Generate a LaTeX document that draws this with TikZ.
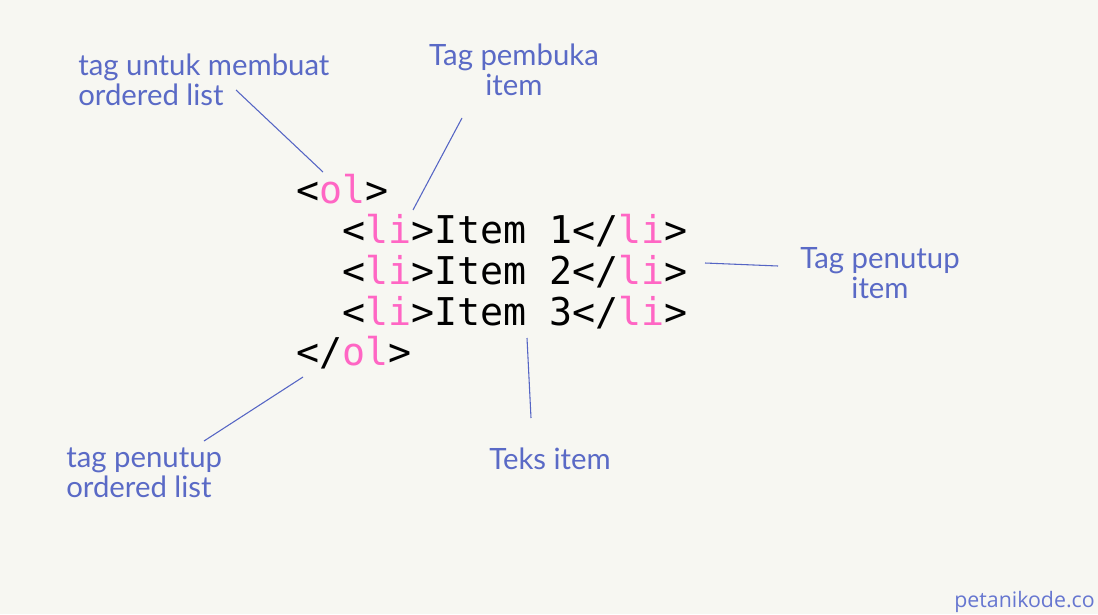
\documentclass[tikz,border=0pt]{standalone}
\usepackage{fontspec}
\newfontfamily\codefont{DejaVu Sans Mono}
\newfontfamily\labfont{Lato}
\newfontfamily\wmfont{Open Sans}
\definecolor{bg}{HTML}{F7F7F2}
\definecolor{pk}{HTML}{FF66C4}
\definecolor{lb}{HTML}{5A6AC6}
\definecolor{ln}{HTML}{5565C4}
\definecolor{wm}{HTML}{6676D0}
\begin{document}
\begin{tikzpicture}[x=0.75pt,y=-0.75pt,
 code/.style={anchor=base west,inner sep=0,font=\codefont\fontsize{28.7}{30}\selectfont},
 lab/.style={inner sep=0,text=lb,font=\labfont\fontsize{22}{22.5}\selectfont},
 con/.style={draw=ln,line width=0.8pt}]
\fill[bg] (0,0) rectangle (1098,614);
\useasboundingbox (0,0) rectangle (1098,614);
% code
\node[code] (ol)  at (296,203) {<\textcolor{pk}{ol}>};
\node[code] (li1) at (342,243) {<\textcolor{pk}{li}>Item 1</\textcolor{pk}{li}>};
\node[code] (li2) at (342,284) {<\textcolor{pk}{li}>Item 2</\textcolor{pk}{li}>};
\node[code] (li3) at (342,325) {<\textcolor{pk}{li}>Item 3</\textcolor{pk}{li}>};
\node[code] (olc) at (296,365) {</\textcolor{pk}{ol}>};
% labels
\node[lab,anchor=north west,align=left] (l1) at (78,54) {tag untuk membuat\\ordered list};
\node[lab,anchor=north,align=center] (l2) at (514,44) {Tag pembuka\\item};
\node[lab,anchor=north,align=center] (l3) at (880,247) {Tag penutup\\item};
\node[lab,anchor=north west,align=left] (l4) at (66,448) {tag penutup\\ordered list};
\node[lab,anchor=north] (l5) at (550,448) {Teks item};
% connectors
\coordinate (a1) at (236,90);  \coordinate (b1) at (323,172);
\coordinate (a2) at (462,118); \coordinate (b2) at (413,210);
\coordinate (a3) at (778,266); \coordinate (b3) at (705,263);
\coordinate (a4) at (204,441); \coordinate (b4) at (303,377);
\coordinate (a5) at (531,418); \coordinate (b5) at (527,338);
\draw[con] (a1) -- (b1);
\draw[con] (a2) -- (b2);
\draw[con] (a3) -- (b3);
\draw[con] (a4) -- (b4);
\draw[con] (a5) -- (b5);
% watermark
\node[anchor=base east,inner sep=0,text=wm,font=\wmfont\fontsize{16}{18}\selectfont] (wm) at (1095,607) {petanikode.co};
\end{tikzpicture}
\end{document}
